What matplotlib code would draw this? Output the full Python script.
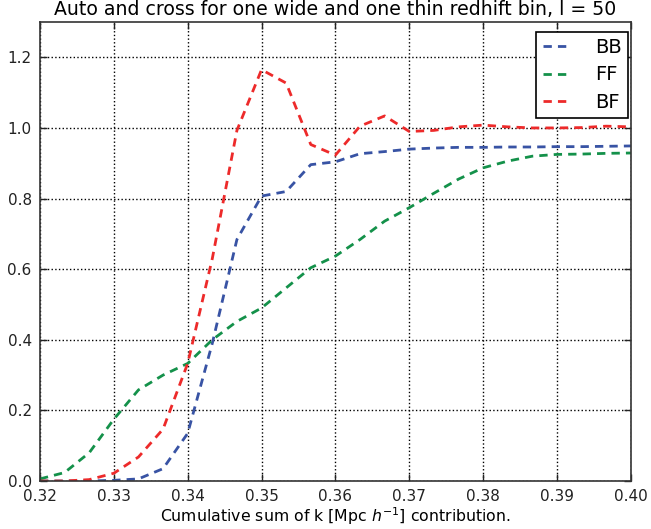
import matplotlib
matplotlib.use("Agg")
import matplotlib.pyplot as plt

k = [0.32 + i * 0.01 / 3 for i in range(25)]

bb = [0.0, 0.0, 0.0, 0.002, 0.006, 0.035, 0.135, 0.39, 0.684, 0.807, 0.82, 0.896,
      0.904, 0.927, 0.933, 0.94, 0.943, 0.945, 0.945, 0.946, 0.946, 0.947, 0.947, 0.948, 0.949]
ff = [0.006, 0.024, 0.08, 0.175, 0.258, 0.30, 0.333, 0.40, 0.452, 0.49, 0.547, 0.604,
      0.637, 0.684, 0.736, 0.774, 0.815, 0.855, 0.887, 0.906, 0.92, 0.925, 0.926, 0.928, 0.929]
bf = [0.0, 0.0, 0.004, 0.022, 0.068, 0.147, 0.333, 0.63, 0.993, 1.165, 1.127, 0.953,
      0.923, 1.005, 1.034, 0.99, 0.993, 1.003, 1.008, 1.003, 1.0, 1.0, 1.001, 1.005, 1.003]

labels = ["BB", "FF", "BF"]
colors = ["#3853a4", "#14914a", "#ed2a2a"]

plt.rcParams['font.family'] = ['DejaVu Sans']
plt.rcParams['mathtext.fontset'] = 'dejavusans'

fig = plt.figure(figsize=(6.51, 5.29), dpi=100)
ax = fig.add_axes([0.0614, 0.0907, 0.9076, 0.8677])

for y, lab, c in zip([bb, ff, bf], labels, colors):
    ax.plot(k, y, linestyle=(0, (3.0, 2.2)), color=c, lw=2.0, label=lab)

ax.set_xlim(0.32, 0.40)
ax.set_ylim(0.0, 1.3)
ax.set_xticks([0.32, 0.33, 0.34, 0.35, 0.36, 0.37, 0.38, 0.39, 0.40])
ax.set_xticklabels(["0.32", "0.33", "0.34", "0.35", "0.36", "0.37", "0.38", "0.39", "0.40"])
ax.set_yticks([0.0, 0.2, 0.4, 0.6, 0.8, 1.0, 1.2])
ax.set_yticklabels(["0.0", "0.2", "0.4", "0.6", "0.8", "1.0", "1.2"])
ax.tick_params(direction='in', top=True, right=True, length=5, width=1, labelsize=11, pad=6, colors='#222222')
ax.grid(True, linestyle=':', color='black', linewidth=1.0)
for s in ax.spines.values():
    s.set_linewidth(1.2)
    s.set_color('#333333')

ax.set_title("Auto and cross for one wide and one thin redhift bin, l = 50", fontsize=13.6, pad=5)
ax.set_xlabel(r"Cumulative sum of k [Mpc $h^{-1}$] contribution.", fontsize=11.3, labelpad=1)

leg = ax.legend(loc='upper right', fontsize=14, frameon=True, fancybox=False,
                bbox_to_anchor=(628 / 651, 1 - 32 / 529), bbox_transform=fig.transFigure,
                borderaxespad=0.0, borderpad=0.32, handlelength=1.4, handletextpad=1.3,
                labelspacing=0.42)
leg.get_frame().set_edgecolor('black')
leg.get_frame().set_linewidth(1.2)
leg.get_frame().set_alpha(1.0)

fig.savefig("out.png", dpi=100)
